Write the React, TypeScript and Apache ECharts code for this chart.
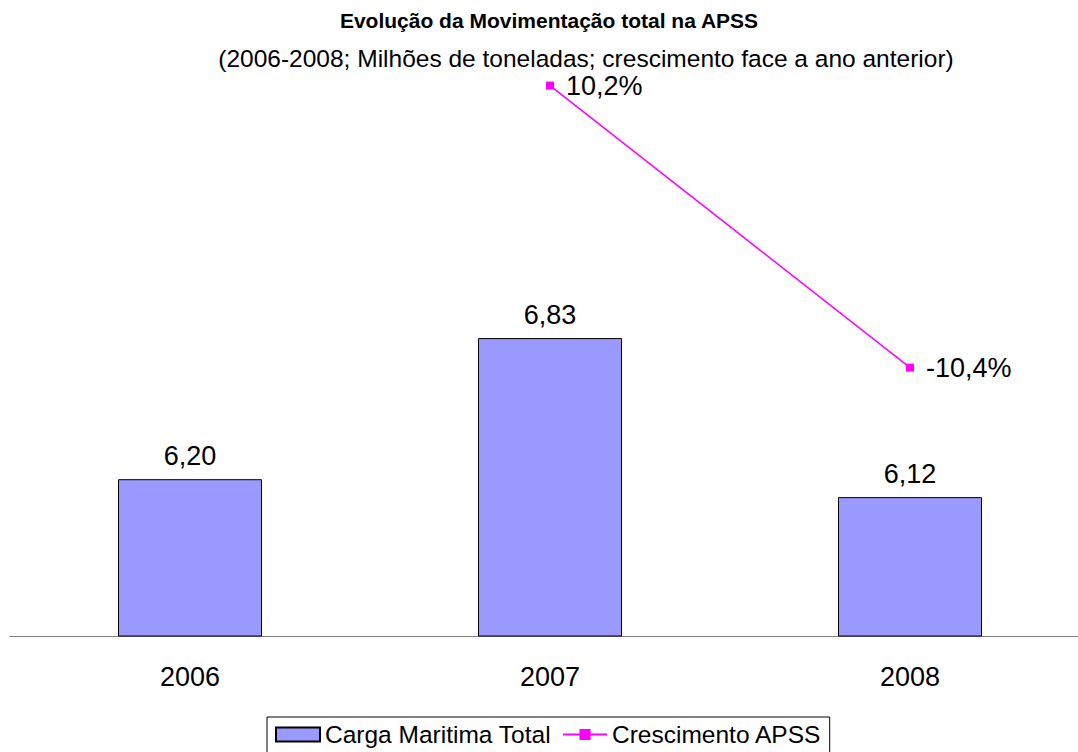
import React, { useEffect, useRef } from "react";
import * as echarts from "echarts";

const categories = ["2006", "2007", "2008"];
const cargaTotal = [6.2, 6.83, 6.12];
const crescimento: (number | null)[] = [null, 10.2, -10.4];

const titleText = "Evolução da Movimentação total na APSS";
const subtitleText = "(2006-2008; Milhões de toneladas; crescimento face a ano anterior)";
const seriesNames = ["Carga Maritima Total", "Crescimento APSS"];

const FONT = "Liberation Sans, Arial, sans-serif";

export default function App() {
  const ref = useRef<HTMLDivElement>(null);
  useEffect(() => {
    if (!ref.current) return;
    const chart = echarts.init(ref.current, null, { renderer: "svg" });
    chart.setOption({
      animation: false,
      backgroundColor: "#ffffff",
      textStyle: { fontFamily: FONT },
      graphic: [
        {
          type: "text",
          x: 549,
          y: 20,
          style: {
            text: titleText,
            font: `bold 21px ${FONT}`,
            fill: "#000",
            textAlign: "center",
            textVerticalAlign: "middle",
          },
        },
        {
          type: "text",
          x: 586,
          y: 58,
          style: {
            text: subtitleText,
            font: `24.5px ${FONT}`,
            fill: "#000",
            textAlign: "center",
            textVerticalAlign: "middle",
          },
        },
      ],
      legend: {
        data: [
          { name: seriesNames[0], icon: "rect" },
          { name: seriesNames[1] },
        ],
        left: 267,
        top: 717,
        padding: [5, 8, 10, 8],
        borderColor: "#000",
        borderWidth: 1,
        borderRadius: 0,
        itemWidth: 44,
        itemHeight: 14,
        itemGap: 11,
        textStyle: { fontSize: 24.5, color: "#000", fontFamily: FONT },
      },
      grid: { left: 10, top: 76, right: 0, height: 560, containLabel: false },
      xAxis: {
        type: "category",
        data: categories,
        boundaryGap: true,
        axisLine: { show: true, onZero: false, lineStyle: { color: "#808080", width: 1 } },
        axisTick: { show: false },
        axisLabel: { fontSize: 27, color: "#000", margin: 27, fontFamily: FONT },
      },
      yAxis: [
        { type: "value", min: 5.5, max: 8.0, show: false, splitLine: { show: false } },
        { type: "value", min: -30, max: 10.9, show: false, splitLine: { show: false } },
      ],
      series: [
        {
          name: seriesNames[0],
          type: "bar",
          data: cargaTotal,
          barWidth: "40%",
          yAxisIndex: 0,
          itemStyle: { color: "#9999FF", borderColor: "#000", borderWidth: 1 },
          label: {
            show: true,
            position: "top",
            distance: 10,
            fontSize: 27,
            color: "#000",
            fontFamily: FONT,
            formatter: (p: any) => p.value.toFixed(2).replace(".", ","),
          },
        },
        {
          name: seriesNames[1],
          type: "line",
          data: crescimento,
          yAxisIndex: 1,
          symbol: "rect",
          symbolSize: 8,
          lineStyle: { color: "#FF00FF", width: 1.5 },
          itemStyle: { color: "#FF00FF" },
          label: {
            show: true,
            position: "right",
            distance: 12,
            fontSize: 27,
            color: "#000",
            fontFamily: FONT,
            formatter: (p: any) =>
              p.value == null ? "" : p.value.toFixed(1).replace(".", ",") + "%",
          },
        },
      ],
    });
    return () => chart.dispose();
  }, []);
  return (
    <div
      ref={ref}
      style={{ position: "fixed", left: 0, top: 0, width: 1090, height: 752 }}
    />
  );
}
